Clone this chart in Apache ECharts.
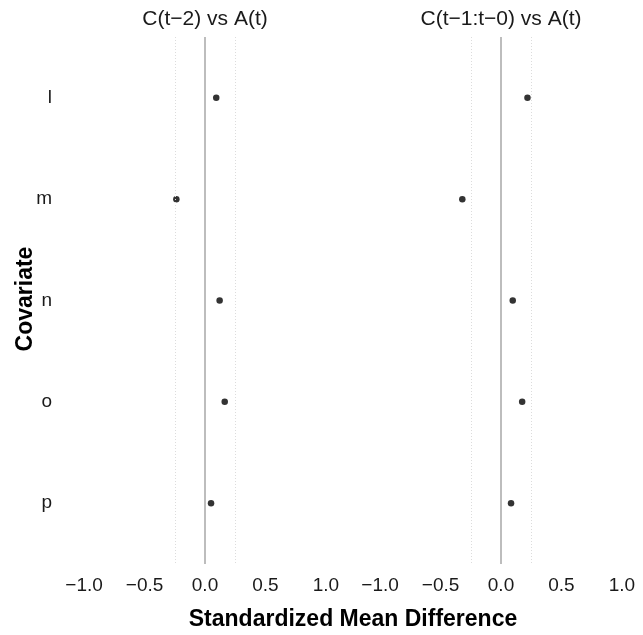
<!DOCTYPE html>
<html>
<head>
<meta charset="utf-8">
<script src="https://cdn.jsdelivr.net/npm/echarts@6/dist/echarts.min.js"></script>
<style>html,body{margin:0;padding:0;background:#fff;}#c{width:643px;height:635px;}</style>
</head>
<body>
<div id="c"></div>
<script>
const categories = ['l', 'm', 'n', 'o', 'p'];
const panelTitles = ['C(t\u22122) vs A(t)', 'C(t\u22121:t\u22120) vs A(t)'];
const xTitle = 'Standardized Mean Difference';
const yTitle = 'Covariate';
const smdLag2 = [0.093, -0.237, 0.121, 0.163, 0.05];
const smdLag10 = [0.219, -0.32, 0.097, 0.175, 0.083];
const xTicks = [-1, -0.5, 0, 0.5, 1];
const zeroLine = [0];
const thresholdLines = [-0.25, 0.25];

const FONT = 'Liberation Sans, Arial, sans-serif';
const chart = echarts.init(document.getElementById('c'), null, {renderer: 'canvas'});

const grids = [
  {left: 72, top: 37, width: 266, height: 527},
  {left: 368, top: 37, width: 266, height: 527}
];
const seriesValues = [smdLag2, smdLag10];

function fmtTick(v) {
  const s = Math.abs(v).toFixed(1);
  return v < 0 ? '\u2212' + s : s;
}

const option = {
  animation: false,
  backgroundColor: '#fff',
  graphic: [
    {type: 'text', x: 205, y: 19,
     style: {text: panelTitles[0], font: '21px ' + FONT, fill: '#1a1a1a', align: 'center', verticalAlign: 'middle'}},
    {type: 'text', x: 501, y: 19,
     style: {text: panelTitles[1], font: '21px ' + FONT, fill: '#1a1a1a', align: 'center', verticalAlign: 'middle'}},
    {type: 'text', x: 353, y: 620,
     style: {text: xTitle, font: 'bold 23px ' + FONT, fill: '#000', align: 'center', verticalAlign: 'middle'}},
    {type: 'text', x: 26, y: 299, rotation: Math.PI / 2,
     style: {text: yTitle, font: 'bold 23px ' + FONT, fill: '#000', align: 'center', verticalAlign: 'middle'}}
  ],
  grid: grids,
  xAxis: grids.map((g, i) => ({
    type: 'value', gridIndex: i, min: -1.1, max: 1.1,
    axisLine: {show: false}, axisTick: {show: false}, splitLine: {show: false},
    axisLabel: {customValues: xTicks, formatter: fmtTick, fontFamily: FONT, fontSize: 19, color: '#1a1a1a', margin: 12}
  })),
  yAxis: grids.map((g, i) => ({
    type: 'value', gridIndex: i, min: 0.4, max: 5.6, inverse: true,
    axisLine: {show: false}, axisTick: {show: false}, splitLine: {show: false},
    axisLabel: {show: i === 0, customValues: categories.map((c, k) => k + 1),
      formatter: v => categories[Math.round(v) - 1] || '',
      fontFamily: FONT, fontSize: 19, color: '#1a1a1a', margin: 20}
  })),
  series: seriesValues.map((vals, i) => ({
    type: 'scatter', xAxisIndex: i, yAxisIndex: i,
    symbol: 'circle', symbolSize: 6.5,
    itemStyle: {color: '#000'},
    data: vals.map((v, k) => [v, k + 1]),
    markLine: {
      silent: true, symbol: 'none', label: {show: false},
      data: zeroLine.map(v => ({xAxis: v, lineStyle: {color: '#bdbdbd', width: 2, type: 'solid'}}))
        .concat(thresholdLines.map(v => ({xAxis: v, lineStyle: {color: '#dcdcdc', width: 1, type: [1, 2]}})))
    }
  }))
};
chart.setOption(option);
</script>
</body>
</html>
